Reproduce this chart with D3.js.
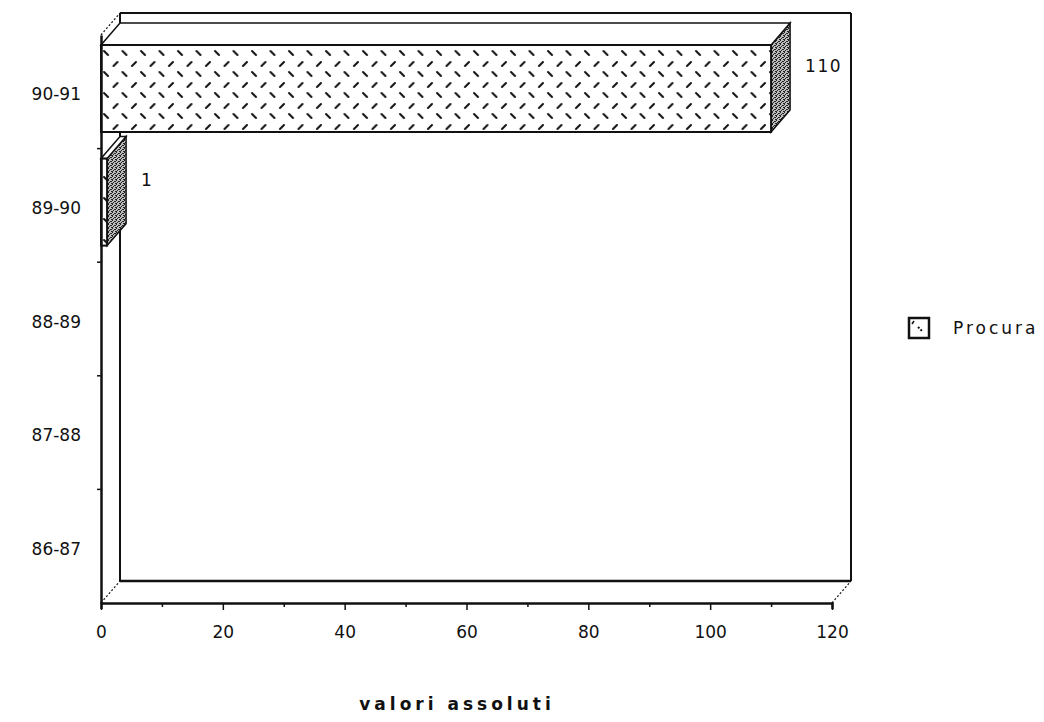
<!DOCTYPE html>
<html>
<head>
<meta charset="utf-8">
<script src="https://cdn.jsdelivr.net/npm/d3@7"></script>
<style>
  html, body { margin: 0; padding: 0; background: #fff; }
  svg text { font-family: "DejaVu Sans", sans-serif; fill: #111; }
</style>
</head>
<body>
<svg id="chart" width="1044" height="722"></svg>
<script>
// Seasons, bottom to top, and the number of cases per season (null = no bar)
const categories = ["86-87", "87-88", "88-89", "89-90", "90-91"];
const procura = [null, null, null, 1, 110];
const xTicks = [0, 20, 40, 60, 80, 100, 120];
const seriesName = "Procura";
const axisTitle = "valori assoluti";

const svg = d3.select("#chart");

// Front plane of the 3-D box and the depth offset of the back plane
const pLeft = 101, pRight = 832, pTop = 35, pBottom = 603;
const dx = 19, dy = -22;

const x = d3.scaleLinear().domain([0, 120]).range([pLeft, pRight]);
const y = d3.scaleBand().domain(categories.slice().reverse()).range([pTop, pBottom]);
const barInsetTop = 10, barHeight = 87;

// Fill patterns: alternating rows of diagonal dashes for bar fronts, stipple for bar sides
const defs = svg.append("defs");
const herring = defs.append("pattern").attr("id", "herring")
  .attr("patternUnits", "userSpaceOnUse").attr("width", 18.5).attr("height", 21)
  .attr("x", pLeft).attr("y", 48);
herring.append("rect").attr("width", 18.5).attr("height", 21).attr("fill", "#fff");
[[3, 3, 7, 7], [12.5, 18, 16.5, 14]].forEach(([a, b, c, d]) => {
  herring.append("line").attr("x1", a).attr("y1", b).attr("x2", c).attr("y2", d)
    .attr("stroke", "#111").attr("stroke-width", 2).attr("stroke-linecap", "round");
});

const stipple = defs.append("pattern").attr("id", "stipple")
  .attr("patternUnits", "userSpaceOnUse").attr("width", 4).attr("height", 4);
stipple.append("rect").attr("width", 4).attr("height", 4).attr("fill", "#bdbdbd");
[[0, 0], [2, 1], [1, 2], [3, 3], [0, 3], [3, 1]].forEach(([a, b]) => {
  stipple.append("rect").attr("x", a).attr("y", b).attr("width", 1).attr("height", 1).attr("fill", "#222");
});

const line = (x1, y1, x2, y2, w = 2, dash = null) =>
  svg.append("line").attr("x1", x1).attr("y1", y1).attr("x2", x2).attr("y2", y2)
    .attr("stroke", "#111").attr("stroke-width", w).attr("stroke-dasharray", dash);

// Back wall and floor of the box
line(pLeft + dx, pTop + dy, pRight + dx, pTop + dy, 2);
line(pLeft + dx, pTop + dy, pLeft + dx, pBottom + dy, 2);
line(pRight + dx, pTop + dy, pRight + dx, pBottom + dy, 2);
line(pLeft + dx, pBottom + dy, pRight + dx, pBottom + dy, 2.5);
line(pLeft, pBottom, pLeft + dx, pBottom + dy, 1.2, "2,2");
line(pRight, pBottom, pRight + dx, pBottom + dy, 1.2, "2,2");
line(pLeft, pTop, pLeft + dx, pTop + dy, 1.2, "2,2");

// Bars drawn as extruded boxes: side face, top face, front face
const rows = categories.map((c, i) => ({ cat: c, v: procura[i] })).filter(d => d.v != null);
const bars = svg.append("g").selectAll("g").data(rows).join("g");

bars.append("path")
  .attr("d", d => {
    const x1 = x(d.v), y0 = y(d.cat) + barInsetTop, y1 = y0 + barHeight;
    return `M${x1},${y0}L${x1 + dx},${y0 + dy}L${x1 + dx},${y1 + dy}L${x1},${y1}Z`;
  })
  .attr("fill", "url(#stipple)").attr("stroke", "#111").attr("stroke-width", 1.5);

bars.append("path")
  .attr("d", d => {
    const x0 = x(0), x1 = x(d.v), y0 = y(d.cat) + barInsetTop;
    return `M${x0},${y0}L${x0 + dx},${y0 + dy}L${x1 + dx},${y0 + dy}L${x1},${y0}Z`;
  })
  .attr("fill", "#fff").attr("stroke", "#111").attr("stroke-width", 1.5);

bars.append("rect")
  .attr("x", x(0)).attr("y", d => y(d.cat) + barInsetTop)
  .attr("width", d => x(d.v) - x(0)).attr("height", barHeight)
  .attr("fill", "url(#herring)").attr("stroke", "#111").attr("stroke-width", 2);

bars.append("text")
  .attr("x", d => x(d.v) + dx + 15)
  .attr("y", d => y(d.cat) + barInsetTop + dy + barHeight / 2)
  .attr("dy", "0.35em").attr("font-size", 17).attr("letter-spacing", 1.5)
  .text(d => d.v);

// Front axes
const xAxis = d3.axisBottom(x).tickValues(d3.range(0, 121, 10)).tickSize(6).tickFormat(d => xTicks.includes(d) ? d : "");
const gx = svg.append("g").attr("transform", `translate(0,${pBottom})`).call(xAxis);
gx.select(".domain").attr("stroke", "#111").attr("stroke-width", 2.5);
gx.selectAll(".tick line").attr("stroke", "#111").attr("stroke-width", 1.5)
  .attr("y2", d => xTicks.includes(d) ? 7 : 4);
gx.selectAll(".tick text").attr("font-size", 17).attr("font-family", "DejaVu Sans").attr("fill", "#111").attr("dy", "1.5em");

const yAxis = d3.axisLeft(y).tickSize(0).tickPadding(20);
const gy = svg.append("g").attr("transform", `translate(${pLeft},0)`).call(yAxis);
gy.select(".domain").attr("stroke", "#111").attr("stroke-width", 2.5);
gy.selectAll(".tick text").attr("font-size", 17).attr("font-family", "DejaVu Sans").attr("fill", "#111").attr("dy", "0.5em");
// short ticks at band boundaries
gy.selectAll(".bnd").data(categories.slice(0, -1)).join("line")
  .attr("x1", -4).attr("x2", 0)
  .attr("y1", d => y(d)).attr("y2", d => y(d))
  .attr("stroke", "#111").attr("stroke-width", 1.5);

// Legend
const lg = svg.append("g").attr("transform", "translate(909,318)");
lg.append("rect").attr("width", 20).attr("height", 20).attr("fill", "#fff")
  .attr("stroke", "#111").attr("stroke-width", 2.5);
lg.append("line").attr("x1", 9).attr("y1", 9).attr("x2", 13).attr("y2", 13)
  .attr("stroke", "#111").attr("stroke-width", 2).attr("stroke-dasharray", "2,1.5");
lg.append("line").attr("x1", 3).attr("y1", 6).attr("x2", 5).attr("y2", 3)
  .attr("stroke", "#111").attr("stroke-width", 1.5);
lg.append("text").attr("x", 44).attr("y", 10).attr("dy", "0.35em").attr("font-size", 17)
  .attr("letter-spacing", 3).text(seriesName);

// Axis title
svg.append("text").attr("x", 457).attr("y", 710).attr("text-anchor", "middle")
  .attr("font-size", 17).attr("font-weight", "bold").attr("letter-spacing", 4)
  .text(axisTitle);
</script>
</body>
</html>
